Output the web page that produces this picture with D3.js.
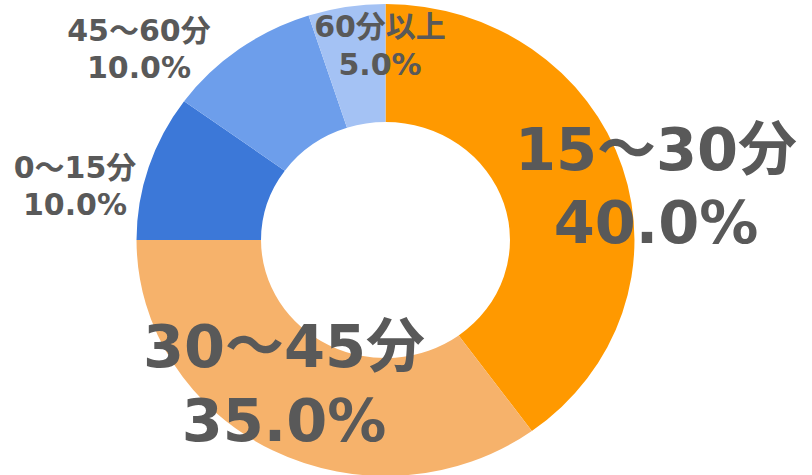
<!DOCTYPE html>
<html>
<head>
<meta charset="utf-8">
<script src="https://cdn.jsdelivr.net/npm/d3@7"></script>
<style>
  html, body { margin: 0; padding: 0; background: #fff; }
  svg { display: block; }
  text { font-family: "DejaVu Sans", "Noto Sans CJK JP", sans-serif; font-weight: bold; fill: #595959; }
</style>
</head>
<body>
<svg id="chart" width="812" height="475"></svg>
<script>
// Data (clockwise from 12 o'clock)
const categories = ["15〜30分", "30〜45分", "0〜15分", "45〜60分", "60分以上"];
const values = [40.0, 35.0, 10.0, 10.0, 5.0];
const colors = ["#ff9900", "#f6b26b", "#3c78d8", "#6d9eeb", "#a4c2f4"];

// Label layout (centre x, first baseline y, font size, line gap)
const labelX = [656, 284, 75, 139, 380];
const labelY = [170, 367, 178, 41, 37];
const labelSize = [59, 59, 30, 30, 30];
const labelGap = [73, 74, 37, 37, 38];

const svg = d3.select("#chart");
const cx = 385.5, cy = 240, outerR = 236, innerR = 118, sx = 1.055;

const pie = d3.pie().sort(null).value(d => d)(values);
const arc = d3.arc().innerRadius(innerR).outerRadius(outerR);

const g = svg.append("g").attr("transform", `translate(${cx},${cy}) scale(${sx},1)`);
g.selectAll("path").data(pie).join("path")
  .attr("d", arc)
  .attr("fill", (d, i) => colors[i]);

const labels = svg.append("g");
categories.forEach((c, i) => {
  const t = labels.append("text")
    .attr("text-anchor", "middle")
    .attr("font-size", labelSize[i]);
  t.append("tspan").attr("x", labelX[i]).attr("y", labelY[i]).text(c);
  t.append("tspan").attr("x", labelX[i]).attr("y", labelY[i] + labelGap[i]).text(values[i].toFixed(1) + "%");
});
</script>
</body>
</html>
